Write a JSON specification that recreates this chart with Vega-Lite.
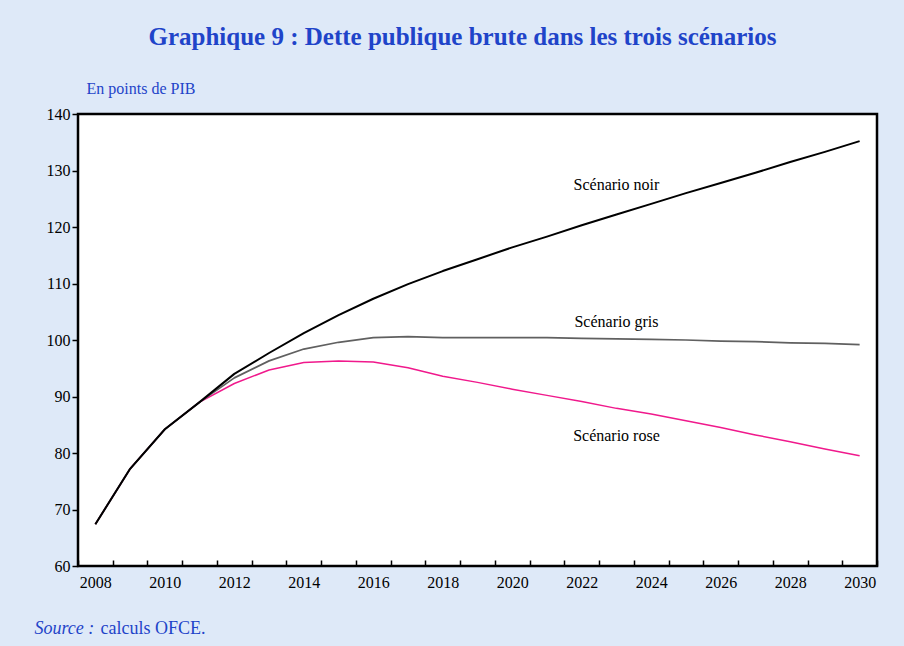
{
  "$schema": "https://vega.github.io/schema/vega-lite/v6.json",
  "width": 799,
  "height": 452,
  "autosize": {"type": "none"},
  "padding": {"left": 78, "top": 114, "right": 27, "bottom": 80},
  "background": "#dee9f8",
  "title": {
    "text": "Graphique 9 : Dette publique brute dans les trois scénarios",
    "font": "Liberation Serif",
    "fontSize": 25,
    "fontWeight": "bold",
    "color": "#1f44c9",
    "anchor": "middle",
    "frame": "group",
    "dx": -15,
    "offset": 30
  },
  "config": {
    "view": {"fill": "white", "stroke": "black", "strokeWidth": 2.5},
    "font": "Liberation Serif"
  },
  "datasets": {
    "series": [
      {"scenario": "rose", "year": 2008, "value": 67.4},
      {"scenario": "rose", "year": 2009, "value": 77.2},
      {"scenario": "rose", "year": 2010, "value": 84.2},
      {"scenario": "rose", "year": 2011, "value": 89.0},
      {"scenario": "rose", "year": 2012, "value": 92.3},
      {"scenario": "rose", "year": 2013, "value": 94.7},
      {"scenario": "rose", "year": 2014, "value": 96.0},
      {"scenario": "rose", "year": 2015, "value": 96.3},
      {"scenario": "rose", "year": 2016, "value": 96.1},
      {"scenario": "rose", "year": 2017, "value": 95.1},
      {"scenario": "rose", "year": 2018, "value": 93.6},
      {"scenario": "rose", "year": 2019, "value": 92.5},
      {"scenario": "rose", "year": 2020, "value": 91.3},
      {"scenario": "rose", "year": 2021, "value": 90.2},
      {"scenario": "rose", "year": 2022, "value": 89.1},
      {"scenario": "rose", "year": 2023, "value": 87.9},
      {"scenario": "rose", "year": 2024, "value": 86.9},
      {"scenario": "rose", "year": 2025, "value": 85.7},
      {"scenario": "rose", "year": 2026, "value": 84.5},
      {"scenario": "rose", "year": 2027, "value": 83.2},
      {"scenario": "rose", "year": 2028, "value": 82.0},
      {"scenario": "rose", "year": 2029, "value": 80.7},
      {"scenario": "rose", "year": 2030, "value": 79.5},
      {"scenario": "gris", "year": 2008, "value": 67.4},
      {"scenario": "gris", "year": 2009, "value": 77.2},
      {"scenario": "gris", "year": 2010, "value": 84.2},
      {"scenario": "gris", "year": 2011, "value": 89.0},
      {"scenario": "gris", "year": 2012, "value": 93.3},
      {"scenario": "gris", "year": 2013, "value": 96.3},
      {"scenario": "gris", "year": 2014, "value": 98.4},
      {"scenario": "gris", "year": 2015, "value": 99.6},
      {"scenario": "gris", "year": 2016, "value": 100.4},
      {"scenario": "gris", "year": 2017, "value": 100.6},
      {"scenario": "gris", "year": 2018, "value": 100.4},
      {"scenario": "gris", "year": 2019, "value": 100.4},
      {"scenario": "gris", "year": 2020, "value": 100.4},
      {"scenario": "gris", "year": 2021, "value": 100.4},
      {"scenario": "gris", "year": 2022, "value": 100.3},
      {"scenario": "gris", "year": 2023, "value": 100.2},
      {"scenario": "gris", "year": 2024, "value": 100.1},
      {"scenario": "gris", "year": 2025, "value": 100.0},
      {"scenario": "gris", "year": 2026, "value": 99.8},
      {"scenario": "gris", "year": 2027, "value": 99.7},
      {"scenario": "gris", "year": 2028, "value": 99.5},
      {"scenario": "gris", "year": 2029, "value": 99.4},
      {"scenario": "gris", "year": 2030, "value": 99.2},
      {"scenario": "noir", "year": 2008, "value": 67.4},
      {"scenario": "noir", "year": 2009, "value": 77.2},
      {"scenario": "noir", "year": 2010, "value": 84.2},
      {"scenario": "noir", "year": 2011, "value": 89.0},
      {"scenario": "noir", "year": 2012, "value": 94.0},
      {"scenario": "noir", "year": 2013, "value": 97.7},
      {"scenario": "noir", "year": 2014, "value": 101.2},
      {"scenario": "noir", "year": 2015, "value": 104.4},
      {"scenario": "noir", "year": 2016, "value": 107.3},
      {"scenario": "noir", "year": 2017, "value": 109.9},
      {"scenario": "noir", "year": 2018, "value": 112.2},
      {"scenario": "noir", "year": 2019, "value": 114.3},
      {"scenario": "noir", "year": 2020, "value": 116.4},
      {"scenario": "noir", "year": 2021, "value": 118.3},
      {"scenario": "noir", "year": 2022, "value": 120.3},
      {"scenario": "noir", "year": 2023, "value": 122.2},
      {"scenario": "noir", "year": 2024, "value": 124.1},
      {"scenario": "noir", "year": 2025, "value": 126.0},
      {"scenario": "noir", "year": 2026, "value": 127.8},
      {"scenario": "noir", "year": 2027, "value": 129.6},
      {"scenario": "noir", "year": 2028, "value": 131.5},
      {"scenario": "noir", "year": 2029, "value": 133.3},
      {"scenario": "noir", "year": 2030, "value": 135.2}
    ],
    "labels": [
      {"year": 2023, "value": 127.4, "label": "Scénario noir"},
      {"year": 2023, "value": 103.2, "label": "Scénario gris"},
      {"year": 2023, "value": 83.0, "label": "Scénario rose"}
    ]
  },
  "layer": [
    {
      "data": {"name": "series"},
      "mark": {"type": "line", "strokeJoin": "round"},
      "encoding": {
        "x": {
          "field": "year",
          "type": "ordinal",
          "bandPosition": 0.5,
          "scale": {"type": "band", "paddingInner": 0, "paddingOuter": 0},
          "axis": {
            "title": "Source :",
            "titleX": -44,
            "titleY": 67,
            "titleAlign": "left",
            "titleBaseline": "alphabetic",
            "titleAngle": 0,
            "titleFont": "Liberation Serif",
            "titleFontSize": 18,
            "titleFontStyle": "italic",
            "titleFontWeight": "normal",
            "titleColor": "#1f44c9",
            "domain": false,
            "grid": false,
            "tickBand": "extent",
            "tickSize": -6,
            "tickColor": "black",
            "tickWidth": 1.5,
            "labelAngle": 0,
            "labelExpr": "datum.value % 2 === 0 ? datum.label : ''",
            "labelFont": "Liberation Serif",
            "labelFontSize": 16,
            "labelColor": "black",
            "labelDx": 5,
            "labelPadding": 14
          }
        },
        "y": {
          "field": "value",
          "type": "quantitative",
          "scale": {"domain": [60, 140], "nice": false, "zero": false},
          "axis": {
            "values": [60, 70, 80, 90, 100, 110, 120, 130, 140],
            "domain": false,
            "grid": false,
            "tickSize": 6,
            "tickColor": "black",
            "tickWidth": 1.5,
            "labelFont": "Liberation Serif",
            "labelFontSize": 16,
            "labelColor": "black",
            "labelPadding": 2,
            "title": "En points de PIB",
            "titleAngle": 0,
            "titleAlign": "left",
            "titleBaseline": "alphabetic",
            "titleX": 8,
            "titleY": -21,
            "titleFont": "Liberation Serif",
            "titleFontSize": 16,
            "titleFontWeight": "normal",
            "titleColor": "#1f44c9"
          }
        },
        "color": {
          "field": "scenario",
          "type": "nominal",
          "scale": {"domain": ["rose", "gris", "noir"], "range": ["#f0198c", "#606060", "#000000"]},
          "legend": null
        },
        "strokeWidth": {
          "field": "scenario",
          "type": "nominal",
          "scale": {"domain": ["rose", "gris", "noir"], "range": [1.5, 2, 3]},
          "legend": null
        }
      }
    },
    {
      "data": {"name": "labels"},
      "mark": {"type": "text", "font": "Liberation Serif", "fontSize": 16, "align": "center", "baseline": "middle", "color": "black"},
      "encoding": {
        "x": {"field": "year", "type": "ordinal", "bandPosition": 0.5},
        "y": {
          "field": "value",
          "type": "quantitative",
          "scale": {"domain": [60, 140], "nice": false, "zero": false},
          "axis": {
            "orient": "right",
            "domain": false,
            "ticks": false,
            "labels": false,
            "grid": false,
            "title": "calculs OFCE.",
            "titleAngle": 0,
            "titleAlign": "left",
            "titleBaseline": "alphabetic",
            "titleX": -777,
            "titleY": 519,
            "titleFont": "Liberation Serif",
            "titleFontSize": 18,
            "titleFontWeight": "normal",
            "titleColor": "#1f44c9"
          }
        },
        "text": {"field": "label"}
      }
    }
  ],
  "resolve": {"scale": {"y": "independent"}, "axis": {"y": "independent"}}
}
